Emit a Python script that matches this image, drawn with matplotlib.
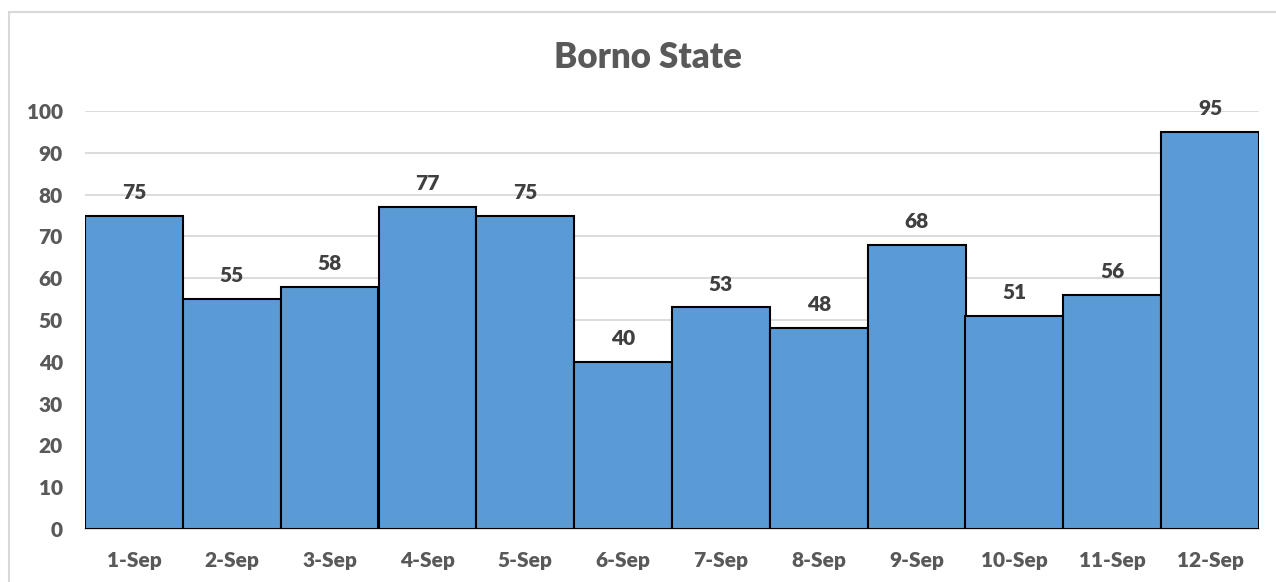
import matplotlib
matplotlib.use("Agg")
import matplotlib.pyplot as plt
from matplotlib.patches import Rectangle

categories = ["1-Sep", "2-Sep", "3-Sep", "4-Sep", "5-Sep", "6-Sep",
              "7-Sep", "8-Sep", "9-Sep", "10-Sep", "11-Sep", "12-Sep"]
values = [75, 55, 58, 77, 75, 40, 53, 48, 68, 51, 56, 95]
yticks = [0, 10, 20, 30, 40, 50, 60, 70, 80, 90, 100]

plt.rcParams['font.family'] = ['Lato', 'DejaVu Sans']
W = "heavy"

fig = plt.figure(figsize=(12.76, 5.82), dpi=100)
fig.patches.append(Rectangle((9/1276, -0.1), 1.2, 1 - 12/582 + 0.1,
                             transform=fig.transFigure, fill=False,
                             edgecolor="#D9D9D9", linewidth=1.5))
ax = fig.add_axes([85/1276, 1 - 529/582, (1259-85)/1276, (529-111)/582])

x = range(len(categories))
ax.bar(x, values, width=1.0, color="#5B9BD5", edgecolor="black", linewidth=1.5, zorder=3)
for i, v in enumerate(values):
    ax.annotate(str(v), (i, v), xytext=(0, 10), textcoords="offset points",
                ha="center", va="bottom", fontsize=15, fontweight=W, color="#404040")

ax.set_xlim(-0.5, len(categories) - 0.5)
ax.set_ylim(0, 100)
ax.set_yticks(yticks)
ax.set_xticks(list(x))
ax.set_xticklabels(categories)
ax.grid(axis="y", color="#D9D9D9", linewidth=1.3, zorder=0)
for s in ["top", "right", "left"]:
    ax.spines[s].set_visible(False)
ax.spines["bottom"].set_color("#D9D9D9")
ax.spines["bottom"].set_linewidth(1.3)
ax.tick_params(axis="both", length=0, labelsize=15, labelcolor="#595959")
ax.tick_params(axis="x", pad=16)
ax.tick_params(axis="y", pad=16)
for lab in ax.get_xticklabels() + ax.get_yticklabels():
    lab.set_fontweight(W)

fig.text(648/1276, 1 - 57/582, "Borno State", ha="center", va="center",
         fontsize=25, fontweight=W, color="#595959")

fig.savefig("out.png", dpi=100)
